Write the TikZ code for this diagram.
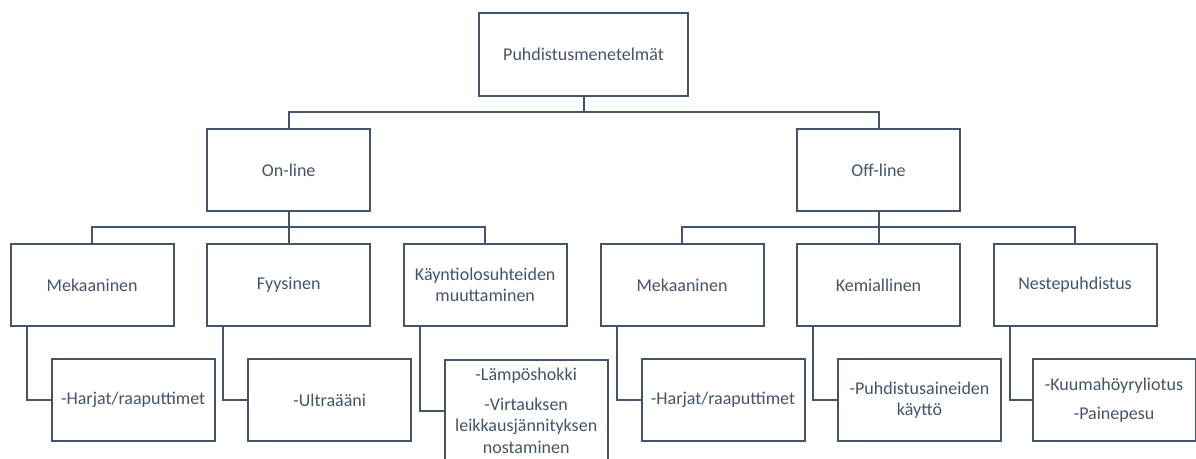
\documentclass[tikz,border=0pt]{standalone}
\usepackage{fontspec}
\setmainfont{Carlito}
\definecolor{slate}{HTML}{44546A}
\begin{document}
\begin{tikzpicture}[x=1pt,y=-1pt,
  box/.style={draw=slate, line width=2pt, fill=white, text=slate, align=center,
    minimum width=163pt, minimum height=82pt, inner sep=2pt,
    font=\fontsize{18}{21.6}\selectfont},
  conn/.style={draw=slate, line width=2pt}]
\useasboundingbox (0,0) rectangle (1196,458);
\clip (0,0) rectangle (1196,458);
% level 0 and 1
\node[box, minimum width=209pt, minimum height=83pt] (root) at (583.5,54.5) {Puhdistusmenetelmät};
\node[box] (on) at (288.7,170) {On-line};
\node[box] (off) at (878.5,170) {Off-line};
% level 2
\node[box] (m1) at (92.2,285) {Mekaaninen};
\node[box] (f1) at (288.7,285) {Fyysinen};
\node[box] (k1) at (485.2,285) {Käyntiolosuhteiden\\muuttaminen};
\node[box] (m2) at (682,285) {Mekaaninen};
\node[box] (ke) at (878.5,285) {Kemiallinen};
\node[box] (ne) at (1075,285) {Nestepuhdistus};
% level 3
\node[box] (c1) at (133.2,400) {-Harjat/raaputtimet};
\node[box] (c2) at (329.7,400) {-Ultraääni};
\node[box, minimum height=102pt] (c3) at (526.2,411) {-Lämpöshokki\\[8pt]-Virtauksen\\leikkausjännityksen\\nostaminen};
\node[box] (c4) at (723,400) {-Harjat/raaputtimet};
\node[box] (c5) at (919.5,400) {-Puhdistusaineiden\\käyttö};
\node[box] (c6) at (1114,400) {-Kuumahöyryliotus\\[8pt]-Painepesu};
% buses
\coordinate (b0) at (583.5,112);
\coordinate (b1) at (288.7,227);
\coordinate (b2) at (878.5,227);
\draw[conn] (root.south) |- (on.north |- b0) -- (on.north);
\draw[conn] (root.south) |- (off.north |- b0) -- (off.north);
\draw[conn] (on.south) |- (m1.north |- b1) -- (m1.north);
\draw[conn] (on.south) -- (f1.north);
\draw[conn] (on.south) |- (k1.north |- b1) -- (k1.north);
\draw[conn] (off.south) |- (m2.north |- b2) -- (m2.north);
\draw[conn] (off.south) -- (ke.north);
\draw[conn] (off.south) |- (ne.north |- b2) -- (ne.north);
% elbows
\draw[conn] ([xshift=17pt]m1.south west) |- (c1.west);
\draw[conn] ([xshift=17pt]f1.south west) |- (c2.west);
\draw[conn] ([xshift=17pt]k1.south west) |- (c3.west);
\draw[conn] ([xshift=17pt]m2.south west) |- (c4.west);
\draw[conn] ([xshift=17pt]ke.south west) |- (c5.west);
\draw[conn] ([xshift=17pt]ne.south west) |- (c6.west);
\end{tikzpicture}
\end{document}
